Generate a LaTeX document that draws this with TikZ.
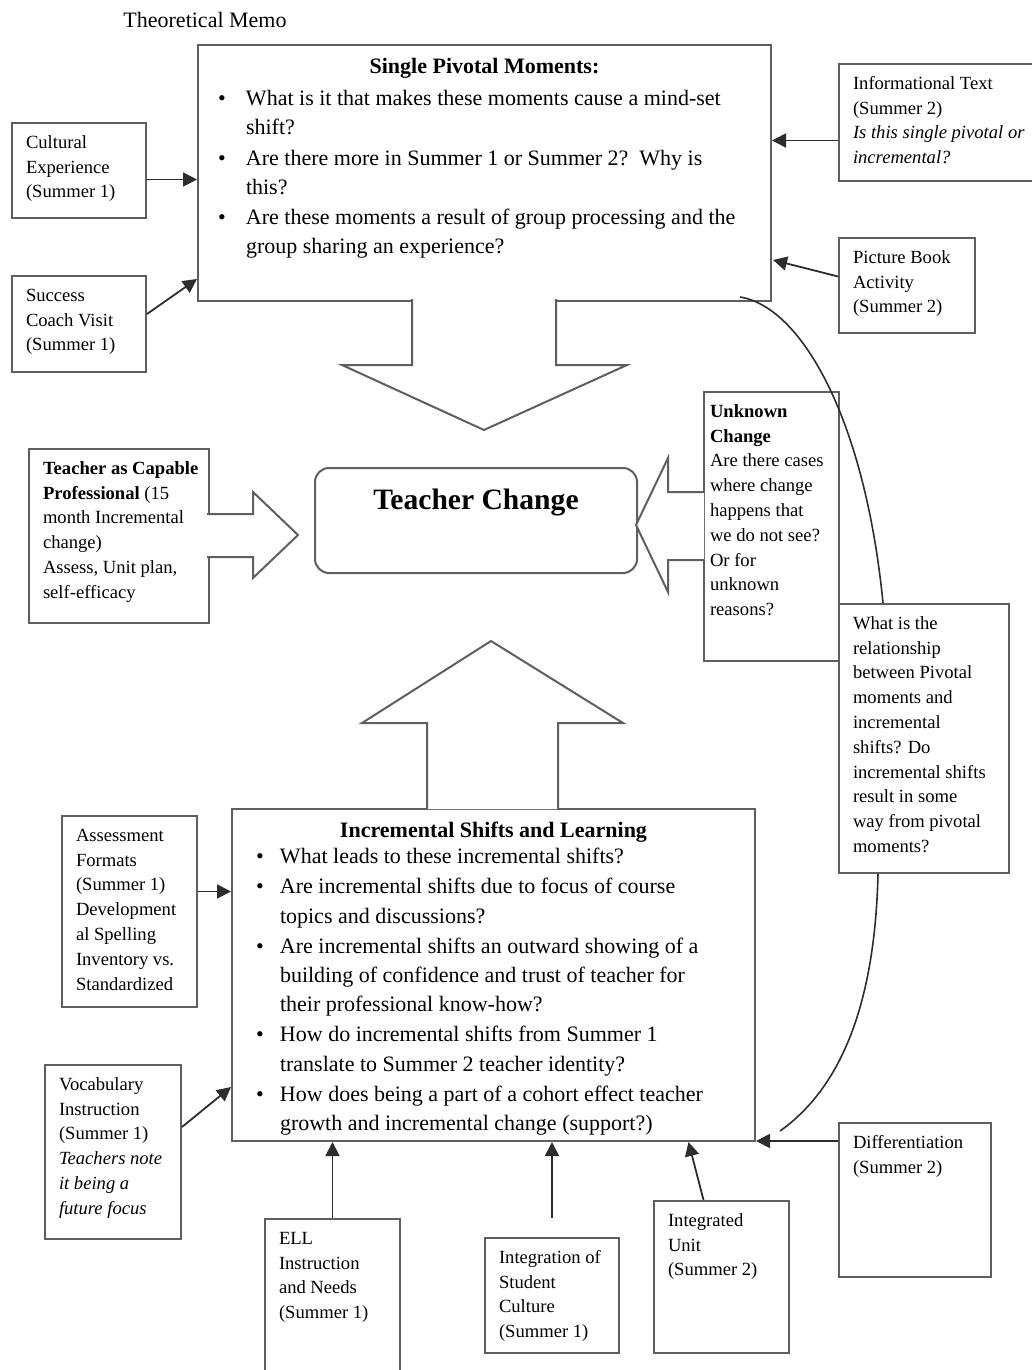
\documentclass[tikz,border=0pt]{standalone}
\usepackage{fontspec}
\setmainfont{Liberation Serif}
\usetikzlibrary{arrows.meta, positioning, calc}
\definecolor{memoline}{RGB}{95,95,95}
\definecolor{memoink}{RGB}{45,45,45}
\newdimen\pxu \pxu=0.5pt
% box text: [left pad]{width px}{height px}{lines}
\newcommand{\boxtext}[4][7pt]{\hspace*{#1}\parbox[t][\dimexpr#3\pxu-8pt\relax][t]{\dimexpr#2\pxu-#1\relax}{\raggedright\strut#4}}
\newcommand{\memobullet}[1][10pt]{\par\hangindent=24pt\hangafter=1\noindent\makebox[24pt][l]{\hspace*{#1}\textbullet}\ignorespaces}

\begin{document}
\begin{tikzpicture}[x=0.5pt, y=-0.5pt,
  memo/.style={draw=memoline, line width=1pt, anchor=north west, inner xsep=0pt, inner ysep=4pt, font=\fontsize{9.3}{12.4}\selectfont},
  bigmemo/.style={memo, font=\fontsize{11}{14.6}\selectfont},
  conn/.style={draw=memoink, line width=0.9pt, -{Triangle[length=7pt, width=7pt]}},
  callout/.style={draw=memoline, line width=1pt, fill=white, line join=miter},
  link/.style={draw=memoink, line width=0.8pt}
]
\useasboundingbox (0,0) rectangle (1032,1370);

\node[font=\fontsize{11}{13}\selectfont] (title) at (205,20) {Theoretical Memo};

% top
\node[bigmemo] (spm) at (197,44) {\boxtext[0pt]{573}{256}{\centering\textbf{Single Pivotal Moments:}\par\vspace{1pt}\raggedright\parskip=0.5pt
  \memobullet What is it that makes these moments cause a mind-set\newline shift?
  \memobullet Are there more in Summer 1 or Summer 2?\ \ Why is\newline this?
  \memobullet Are these moments a result of group processing and the\newline group sharing an experience?}};
\draw[callout] (412,299) -- (412,365) -- (342,365) -- (484,430) -- (627,365) -- (556,365) -- (556,299);

\node[memo] (cul) at (11,122) {\boxtext{134}{95}{Cultural\\Experience\\(Summer 1)}};
\node[memo] (suc) at (11,275) {\boxtext{134}{96}{Success\\Coach Visit\\(Summer 1)}};
\node[memo] (info) at (838,63) {\boxtext{200}{117}{Informational Text\\(Summer 2)\\\textit{Is this single pivotal or}\\\textit{incremental?}}};
\node[memo] (pic) at (838,237) {\boxtext{136}{95}{Picture Book\\Activity\\(Summer 2)}};

\draw[conn] ($(cul.east)+(0,9)$) -- ($(cul.east -| spm.west)+(0,9)$);
\draw[conn] ($(suc.east)+(0,-10)$) -- ($(spm.south west)+(0,-23)$);
\draw[conn] ($(info.west)+(0,18)$) -- ($(info.west -| spm.east)+(0,18)$);
\draw[conn] ($(pic.west)+(0,-9)$) -- ($(spm.south east)+(1,-42)$);

% middle
\node[memo, rounded corners=7pt, font=\fontsize{14.8}{24}\selectfont\bfseries] (tc) at (314,467) {\boxtext[0pt]{322}{105}{\centering Teacher Change}};

\node[memo] (cap) at (28,448) {\boxtext{180}{174}{\textbf{Teacher as Capable}\\\textbf{Professional} (15\\month Incremental\\change)\\Assess, Unit plan,\\self-efficacy}};
\draw[callout] (207,514) -- (253,514) -- (253,492) -- (298,535) -- (253,578) -- (253,557) -- (207,557);

\node[memo] (unk) at (703,391) {\boxtext[3pt]{135}{269}{\textbf{Unknown}\\\textbf{Change}\\Are there cases\\where change\\happens that\\we do not see?\\Or for\\unknown\\reasons?}};
\draw[callout] (704,492) -- (668,492) -- (668,458) -- (636,525) -- (668,592) -- (668,560) -- (704,560);

\node[memo] (rel) at (838,603) {\boxtext{170}{269}{What is the\\relationship\\between Pivotal\\moments and\\incremental\\shifts? Do\\incremental shifts\\result in some\\way from pivotal\\moments?}};

% bottom
\node[bigmemo] (inc) at (231,808) {\boxtext[0pt]{523}{332}{\centering\textbf{Incremental Shifts and Learning}\par\vspace{-2pt}\raggedright\parskip=0.5pt
  \memobullet[12pt] What leads to these incremental shifts?
  \memobullet[12pt] Are incremental shifts due to focus of course\newline topics and discussions?
  \memobullet[12pt] Are incremental shifts an outward showing of a\newline building of confidence and trust of teacher for\newline their professional know-how?
  \memobullet[12pt] How do incremental shifts from Summer 1\newline translate to Summer 2 teacher identity?
  \memobullet[12pt] How does being a part of a cohort effect teacher\newline growth and incremental change (support?)}};
\draw[callout] (427,809) -- (427,723) -- (362,723) -- (491,641) -- (623,723) -- (558,723) -- (558,809);

\node[memo] (asm) at (61,815) {\boxtext{135}{191}{Assessment\\Formats\\(Summer 1)\\Development\\al Spelling\\Inventory vs.\\Standardized}};
\node[memo] (voc) at (44,1064) {\boxtext{136}{174}{Vocabulary\\Instruction\\(Summer 1)\\\textit{Teachers note}\\\textit{it being a}\\\textit{future focus}}};
\node[memo] (ell) at (264,1218) {\boxtext{135}{162}{ELL\\Instruction\\and Needs\\(Summer 1)}};
\node[memo] (stu) at (484,1237) {\boxtext{134}{115}{Integration of\\Student\\Culture\\(Summer 1)}};
\node[memo] (unit) at (653,1200) {\boxtext{135}{152}{Integrated\\Unit\\(Summer 2)}};
\node[memo] (dif) at (838,1122) {\boxtext{152}{154}{Differentiation\\(Summer 2)}};

\draw[conn] ($(asm.east)+(0,-20)$) -- ($(asm.east -| inc.west)+(0,-20)$);
\draw[conn] ($(voc.east)+(0,-25)$) -- ($(inc.south west)+(0,-55)$);
\draw[conn] (ell.north) -- (ell.north |- inc.south);
\draw[conn] ($(stu.north)+(0,-19)$) -- (stu.north |- inc.south);
\draw[conn] ($(unit.north)+(-18,0)$) -- ($(inc.south)+(195,0)$);
\draw[conn] ($(dif.north west)+(0,19)$) -- ($(dif.north west -| inc.east)+(0,19)$);

% links between the questions
\draw[link] ($(spm.south east)+(-32,-5)$) .. controls ($(spm.south east)+(30,5)$) and ($(rel.north west)+(27,-183)$) .. ($(rel.north west)+(45,0)$);
\draw[link] ($(rel.south west)+(40,0)$) .. controls ($(rel.south west)+(37,128)$) and ($(inc.south east)+(86,-55)$) .. ($(inc.south east)+(24,-11)$);
\end{tikzpicture}
\end{document}
